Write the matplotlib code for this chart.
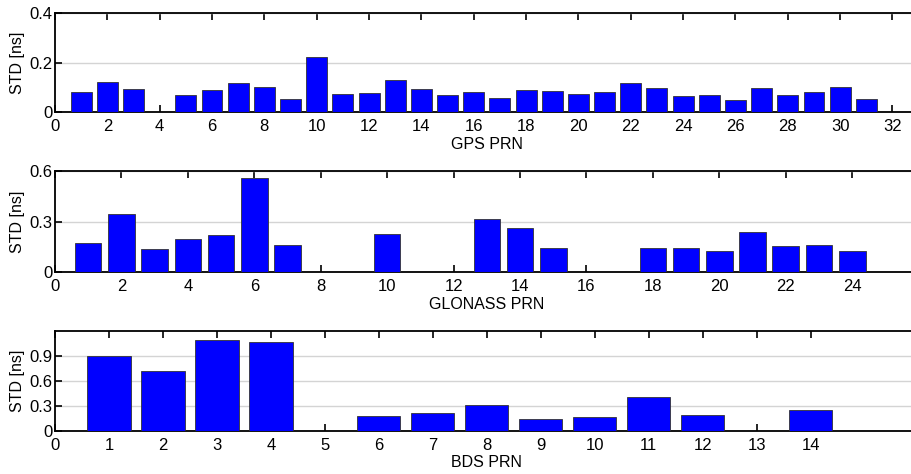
import matplotlib
matplotlib.use("Agg")
import matplotlib.pyplot as plt
import numpy as np

plt.rcParams['font.family'] = ['Liberation Sans', 'DejaVu Sans']

gps_prn = [1, 2, 3, 5, 6, 7, 8, 9, 10, 11, 12, 13, 14, 15, 16, 17, 18, 19, 20,
           21, 22, 23, 24, 25, 26, 27, 28, 29, 30, 31]
gps_std = [0.081, 0.121, 0.096, 0.068, 0.089, 0.117, 0.101, 0.054, 0.222, 0.072,
           0.078, 0.130, 0.092, 0.069, 0.082, 0.059, 0.090, 0.086, 0.074, 0.083,
           0.117, 0.098, 0.067, 0.071, 0.050, 0.097, 0.070, 0.082, 0.101, 0.055]

glo_prn = [1, 2, 3, 4, 5, 6, 7, 10, 13, 14, 15, 18, 19, 20, 21, 22, 23, 24]
glo_std = [0.173, 0.345, 0.136, 0.199, 0.219, 0.558, 0.160, 0.225, 0.315, 0.262,
           0.142, 0.144, 0.146, 0.128, 0.237, 0.157, 0.161, 0.126]

bds_prn = [1, 2, 3, 4, 6, 7, 8, 9, 10, 11, 12, 14]
bds_std = [0.900, 0.713, 1.090, 1.067, 0.175, 0.207, 0.309, 0.143, 0.163, 0.404,
           0.187, 0.254]

panels = [
    dict(x=gps_prn, y=gps_std, xlim=(0, 33), ylim=(0, 0.4), xt=np.arange(0, 33, 2),
         yt=[0, 0.2, 0.4], ytl=['0', '0.2', '0.4'], xlabel='GPS PRN',
         pos=[0.0603, 0.763, 0.947, 0.2095]),
    dict(x=glo_prn, y=glo_std, xlim=(0, 26), ylim=(0, 0.6), xt=np.arange(0, 25, 2),
         yt=[0, 0.3, 0.6], ytl=['0', '0.3', '0.6'], xlabel='GLONASS PRN',
         pos=[0.0603, 0.4255, 0.947, 0.2143]),
    dict(x=bds_prn, y=bds_std, xlim=(0, 16), ylim=(0, 1.2), xt=np.arange(0, 15, 1),
         yt=[0, 0.3, 0.6, 0.9], ytl=['0', '0.3', '0.6', '0.9'], xlabel='BDS PRN',
         pos=[0.0603, 0.0914, 0.947, 0.211]),
]

fig = plt.figure(figsize=(9.12, 4.74), dpi=100)
for p in panels:
    ax = fig.add_axes(p['pos'])
    ax.bar(p['x'], p['y'], width=0.8, color='#0000FF', edgecolor='#333333',
           linewidth=0.6, zorder=3)
    ax.set_xlim(*p['xlim'])
    ax.set_ylim(*p['ylim'])
    ax.set_xticks(p['xt'])
    ax.set_yticks(p['yt'])
    ax.set_yticklabels(p['ytl'])
    ax.yaxis.grid(True, color='#d4d4d4', linewidth=1.0, zorder=0)
    ax.set_axisbelow(True)
    ax.tick_params(direction='in', top=True, right=True, length=5, width=1.2,
                   labelsize=12)
    ax.tick_params(axis='x', pad=5)
    ax.tick_params(axis='y', pad=2)
    for s in ax.spines.values():
        s.set_linewidth(1.3)
    ax.set_ylabel('STD [ns]', fontsize=11.5, labelpad=3)
    ax.set_xlabel(p['xlabel'], fontsize=11.5, labelpad=2)

fig.savefig('out.png', dpi=100)
